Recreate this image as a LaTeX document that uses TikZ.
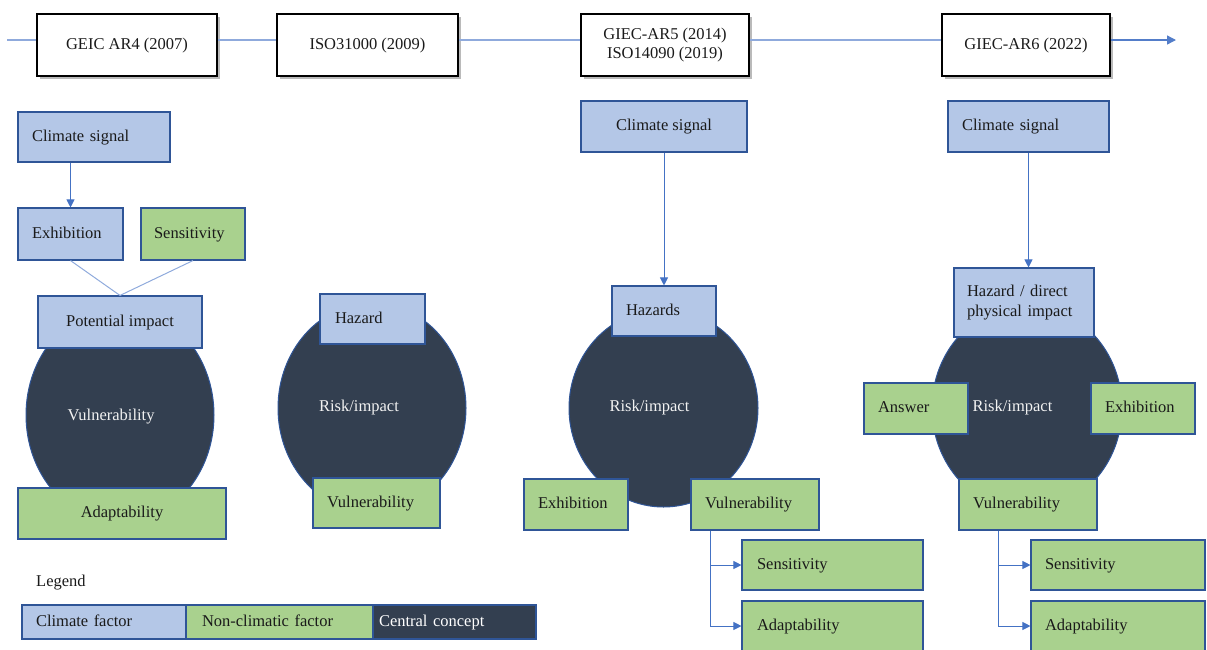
\documentclass[tikz,border=0pt]{standalone}
\usepackage{fontspec}
\setmainfont{Liberation Serif}
\usetikzlibrary{arrows.meta,shapes.geometric,shadows}
\definecolor{cfill}{HTML}{B4C7E7}
\definecolor{nfill}{HTML}{A9D18E}
\definecolor{dark}{HTML}{333F50}
\definecolor{bord}{HTML}{2F5597}
\definecolor{conn}{HTML}{4472C4}
\definecolor{tline}{HTML}{8FAADC}
\definecolor{txt}{HTML}{1A1A1A}
\begin{document}
\begin{tikzpicture}[x=1pt,y=-1pt,
  every node/.style={font=\fontsize{16.5}{19.5}\selectfont, text=txt},
  bx/.style={draw=bord, line width=1.1pt, inner ysep=0pt},
  sl/.style={text height=11.5pt, text depth=3.5pt},
  cf/.style={bx, sl, fill=cfill},
  nf/.style={bx, sl, fill=nfill},
  dk/.style={bx, sl, fill=dark, text=white},
  lt/.style={text width=#1, align=left, inner xsep=14pt},
  ct/.style={minimum width=#1, align=center, inner xsep=0pt},
  yr/.style={draw=black, line width=1.6pt, fill=white, minimum width=#1, minimum height=62pt, align=center, inner sep=0pt,
     drop shadow={shadow xshift=3pt, shadow yshift=-3pt, fill=black!45, opacity=0.6}},
  ell/.style={ellipse, draw=bord, line width=1pt, fill=dark, inner sep=0pt},
  wt/.style={text=white!95!black, inner sep=0pt},
  arr/.style={draw=conn, line width=1pt, -{Triangle[length=8pt,width=8pt]}},
  thin/.style={draw=tline, line width=1pt},
  tl/.style={draw=tline, line width=1.3pt}
]
\useasboundingbox (0,0) rectangle (1207,649);
\clip (0,0) rectangle (1207,649);

% ---------- timeline ----------
\node[yr=180pt, sl] (t1) at (127,45) {GEIC AR4 (2007)};
\node[yr=181pt, sl] (t2) at (367.5,45) {ISO31000 (2009)};
\node[yr=168pt] (t3) at (665,45) {GIEC-AR5 (2014)\\ISO14090 (2019)};
\node[yr=168pt, sl] (t4) at (1026,45) {GIEC-AR6 (2022)};
\coordinate (ts) at (7,40);
\coordinate (te) at (1176,40);
\draw[tl] (ts) -- (ts -| t1.west);
\draw[tl] (ts -| t1.east) -- (ts -| t2.west);
\draw[tl] (ts -| t2.east) -- (ts -| t3.west);
\draw[tl] (ts -| t3.east) -- (ts -| t4.west);
\draw[tl, draw=conn!80!tline, -{Triangle[length=9pt,width=9pt]}] (ts -| t4.east) -- (te);

% ---------- column 1 : AR4 ----------
\node[ell, minimum width=188pt, minimum height=216pt] (c1) at (120,415) {};
\node[wt] (c1t) at (111,417) {Vulnerability};
\node[cf, lt=124pt, minimum height=50pt] (cs1) at (94,137) {Climate signal};
\node[cf, lt=77pt, minimum height=52pt] (ex1) at (70.5,234) {Exhibition};
\node[nf, lt=78pt, inner xsep=13pt, minimum height=52pt] (se1) at (193,234) {Sensitivity};
\node[cf, ct=164pt, minimum height=52pt] (pi1) at (120,322) {Potential impact};
\node[nf, ct=208pt, minimum height=51pt] (ad1) at (122,513.5) {Adaptability};
\draw[arr] (cs1.south -| ex1.north) -- (ex1.north);
\draw[thin] (ex1.south) -- (pi1.north);
\draw[thin] (se1.south) -- (pi1.north);

% ---------- column 2 : ISO31000 ----------
\node[ell, minimum width=188pt, minimum height=210pt] (c2) at (372,408) {};
\node[wt] (c2t) at (359,408) {Risk/impact};
\node[cf, lt=75pt, inner xsep=15pt, minimum height=50pt] (hz2) at (372.5,319) {Hazard};
\node[nf, lt=99pt, minimum height=50pt] (vu2) at (376.5,503) {Vulnerability};

% ---------- column 3 : AR5 / ISO14090 ----------
\node[ell, minimum width=189pt, minimum height=198pt] (c3) at (663.5,408) {};
\node[wt] (c3t) at (649.5,408) {Risk/impact};
\node[cf, ct=166pt, minimum height=51pt] (cs3) at (664,126.5) {Climate signal};
\node[cf, lt=76pt, minimum height=50pt] (hz3) at (664,311) {Hazards};
\node[nf, lt=76pt, minimum height=51pt] (ex3) at (576,504.5) {Exhibition};
\node[nf, lt=100pt, minimum height=51pt] (vu3) at (755,504.5) {Vulnerability};
\node[nf, lt=151pt, inner xsep=15pt, minimum height=50pt] (sn3) at (832.5,565) {Sensitivity};
\node[nf, lt=151pt, inner xsep=15pt, minimum height=50pt] (ad3) at (832.5,626) {Adaptability};
\draw[arr] (cs3.south) -- (cs3.south |- hz3.north);
\draw[arr] ([xshift=20pt]vu3.south west) |- (sn3.west);
\draw[arr] ([xshift=20pt]vu3.south west) |- (ad3.west);

% ---------- column 4 : AR6 ----------
\node[ell, minimum width=190pt, minimum height=206pt] (c4) at (1027,408) {};
\node[wt] (c4t) at (1012.5,408) {Risk/impact};
\node[cf, lt=133pt, minimum height=51pt] (cs4) at (1028.5,126.5) {Climate signal};
\node[bx, fill=cfill, lt=114pt, inner xsep=13pt, minimum height=69pt] (hz4) at (1024,302.5) {Hazard / direct\\physical impact};
\node[nf, lt=76pt, minimum height=51pt] (an4) at (916,408.5) {Answer};
\node[nf, lt=76pt, minimum height=51pt] (ex4) at (1143,408.5) {Exhibition};
\node[nf, lt=110pt, minimum height=51pt] (vu4) at (1028,504.5) {Vulnerability};
\node[nf, lt=146pt, minimum height=50pt] (sn4) at (1118,565) {Sensitivity};
\node[nf, lt=146pt, minimum height=50pt] (ad4) at (1118,626) {Adaptability};
\draw[arr] (cs4.south) -- (cs4.south |- hz4.north);
\draw[arr] ([xshift=40pt]vu4.south west) |- (sn4.west);
\draw[arr] ([xshift=40pt]vu4.south west) |- (ad4.west);

% ---------- legend ----------
\node[anchor=west, inner sep=0pt] (lg) at (36,583) {Legend};
\node[cf, lt=136pt, minimum height=34pt] (lg1) at (104,622) {Climate factor};
\node[nf, lt=155pt, inner xsep=16pt, minimum height=34pt] (lg2) at (279.5,622) {Non-climatic factor};
\node[dk, lt=151pt, inner xsep=6pt, minimum height=34pt] (lg3) at (454.5,622) {Central concept};
\end{tikzpicture}
\end{document}
